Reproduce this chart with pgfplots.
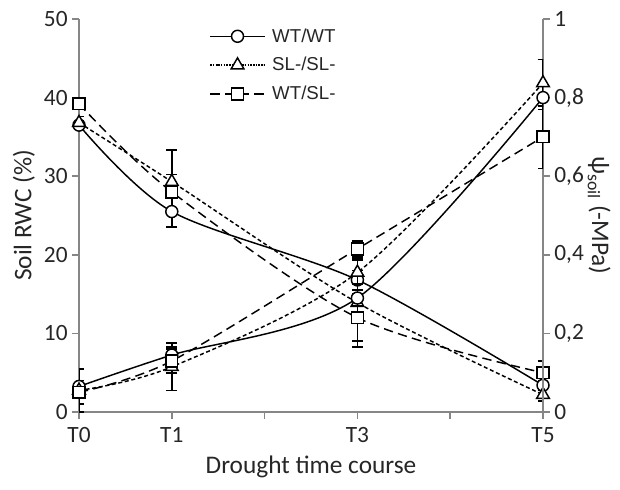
\documentclass[border=0pt]{standalone}
\usepackage{pgfplots}
\pgfplotsset{compat=1.18}
\usepackage{fontspec}
\setmainfont{Carlito}
\newfontfamily\arialfont{Liberation Sans}
\definecolor{axgray}{HTML}{868686}
\definecolor{txt}{HTML}{262626}
\begin{document}
\begin{tikzpicture}
\pgfplotsset{
  every axis/.append style={
    scale only axis, width=348pt, height=294.75pt,
    xmin=0, xmax=5,
    axis line style={axgray, line width=1.1pt},
    tick style={axgray, line width=1.1pt},
    tick align=outside, major tick length=5pt,
    tick label style={font=\fontsize{17.5}{20}\selectfont, text=txt},
    label style={font=\fontsize{19}{22}\selectfont, text=txt},
    /pgf/number format/assume math mode=true,
  },
  serie/.style={black, line width=1.1pt, smooth, tension=0.5,
    error bars/y dir=both, error bars/y explicit,
    error bars/error bar style={solid, line width=1.2pt, black},
    error bars/error mark options={solid, rotate=90, mark size=4pt, line width=1.2pt, black}},
  wtwt/.style={serie, solid, mark=*, mark size=4.5pt, mark options={solid, fill=white, line width=1.1pt}},
  slsl/.style={serie, dash pattern=on 3pt off 2pt, mark=triangle*, mark size=5.5pt, mark options={solid, fill=white, line width=1.1pt}},
  wtsl/.style={serie, dash pattern=on 7pt off 4pt, mark=square*, mark size=4.4pt, mark options={solid, fill=white, line width=1.1pt}},
}
\begin{axis}[
  name=ax,
  axis x line*=bottom, axis y line*=left,
  ymin=0, ymax=50, ytick={0,10,20,30,40,50},
  xtick={0,1,2,3,4,5}, xticklabels={T0,T1,,T3,,T5},
  xticklabel style={yshift=-3pt},
  xlabel={Drought time course}, ylabel={Soil RWC (\%)},
  xlabel style={yshift=-3pt},
  legend style={draw=none, fill=none, at={(0.272,0.99)}, anchor=north west,
    font=\arialfont\fontsize{14}{16}\selectfont, row sep=6pt, text=txt,
    nodes={inner xsep=5pt}},
  legend cell align=left,
  legend image code/.code={\draw[mark repeat=2, mark phase=2] plot coordinates {(0cm,0cm) (0.72cm,0cm) (1.44cm,0cm)};},
]
\addplot[wtwt] coordinates {(0,36.5) +- (0,0.5) (1,25.5) +- (0,2.0) (3,16.8) +- (0,1.2) (5,3.4) +- (0,0.6)};
\addlegendentry{WT/WT}
\addplot[slsl, legend image post style={dash pattern=on 1pt off 1pt}] coordinates {(0,36.8) +- (0,0.8) (1,29.3) +- (0,4.0) (3,13.9) +- (0,5.6) (5,2.2) +- (0,0.8)};
\addlegendentry{SL-/SL-}
\addplot[wtsl] coordinates {(0,39.2) +- (0,0.6) (1,28.0) +- (0,2.2) (3,12.0) +- (0,3.0) (5,5.0) +- (0,1.5)};
\addlegendentry{WT/SL-}
\end{axis}
\begin{axis}[
  axis x line=none, axis y line*=right,
  ymin=0, ymax=1, ytick={0,0.2,0.4,0.6,0.8,1},
  yticklabel style={/pgf/number format/.cd, use comma, fixed},
  ylabel={ψ\textsubscript{soil} (-MPa)},
  ylabel style={rotate=180, yshift=-4pt},
]
\addplot[wtwt] coordinates {(0,0.065) +- (0,0.01) (1,0.145) +- (0,0.02) (3,0.29) +- (0,0.02) (5,0.80) +- (0,0.03)};
\addplot[slsl] coordinates {(0,0.055) +- (0,0.055) (1,0.115) +- (0,0.06) (3,0.355) +- (0,0.03) (5,0.837) +- (0,0.06)};
\addplot[wtsl] coordinates {(0,0.05) +- (0,0.03) (1,0.13) +- (0,0.03) (3,0.415) +- (0,0.02) (5,0.70) +- (0,0.08)};
\end{axis}
\pgfresetboundingbox
\path ([xshift=-59.25pt,yshift=-57.75pt]ax.south west) rectangle ([xshift=57.75pt,yshift=14.25pt]ax.north east);
\end{tikzpicture}
\end{document}
